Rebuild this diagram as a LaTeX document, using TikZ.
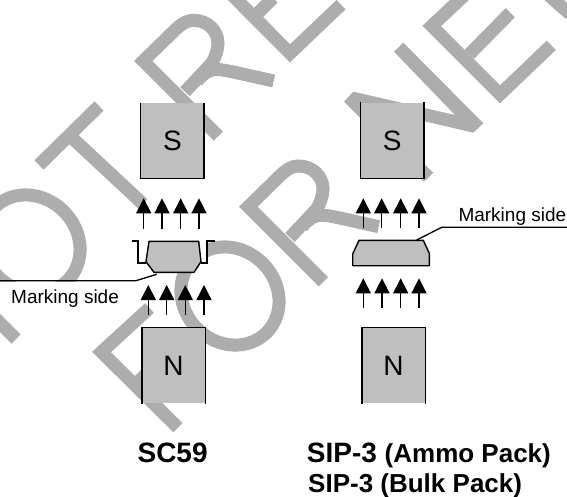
\documentclass[tikz,border=0pt]{standalone}
\usepackage{fontspec}
\setmainfont{Liberation Sans}
\usetikzlibrary{arrows.meta}
\definecolor{wmgray}{HTML}{ADADAD}
\definecolor{boxgray}{HTML}{BFBFBF}
\tikzset{
  wm/.style={draw=wmgray,line width=13pt,line cap=butt,line join=miter},
  magnet/.style={fill=boxgray,draw=none,inner sep=0pt,minimum width=63pt,minimum height=75.5pt,font=\fontsize{28}{28}\selectfont},
  magedge/.style={draw=black,line width=1.4pt},
  body/.style={fill=boxgray,draw=black,line width=1.4pt,line join=round},
  lead/.style={draw=black,line width=2pt},
  leader/.style={draw=black,line width=1.3pt},
  fieldarrow/.style={draw=black,line width=1.3pt,-{Triangle[length=15pt,width=15pt]}},
  marktext/.style={inner sep=0pt,anchor=base west,font=\fontsize{19}{19}\selectfont},
  titlebig/.style={inner sep=0pt,anchor=base west,font=\bfseries\fontsize{28}{28}\selectfont}
}
\newcommand{\letterR}{
  \draw[wm] (218.3,136)--(143.3,61)--(175,30) .. controls (183,22.5) and (188,20.3) .. (193.3,20.3) .. controls (208,20.3) and (218,31) .. (218,43.3) .. controls (218,50) and (215,58) .. (211.7,63.3) -- (185,91.7);
  \draw[wm] (197,81) .. controls (204,73) and (210,68.5) .. (220,69.7) .. controls (228,70.5) and (240,73.5) .. (273.7,81);
}
\begin{document}
\begin{tikzpicture}[x=1pt,y=-1pt]
\useasboundingbox (0,0) rectangle (567,497);
\fill[white] (0,0) rectangle (567,497);
\begin{scope}
\clip (0,0) rectangle (567,497);
% watermark fragments
\draw[wm] (39,165)--(99,106);
\draw[wm] (69,135)--(143,204);
\begin{scope}
\clip (-5,150) rectangle (120,281);
\draw[wm] (31,244) ellipse[x radius=51.7pt,y radius=46.3pt,rotate=-45];
\end{scope}
\draw[wm] (-10,313)--(16,339);
\letterR
\begin{scope}[shift={(105,145.7)}]\letterR\end{scope}
\draw[wm] (230,-7)--(290,53.3)--(341,4.7);
\draw[wm] (258,13)--(273,-2);
\draw[wm] (230,296) ellipse[x radius=51.7pt,y radius=46.3pt,rotate=-45];
\draw[wm] (149.5,308)--(101.5,352)--(178,427.7);
\draw[wm] (135,385)--(155,365);
\fill[wmgray] (394,51.7)--(403.3,42.7)--(483.3,123.3)--(473.3,132.7)--(365,107.3)--(433.3,172.7)--(424,181.7)--(344,101.7)--(353.3,91.7)--(455,115)--cycle;
\draw[wm] (470,-10)--(431.7,26)--(500,94.3)--(551.3,45.3);
\draw[wm] (469.3,54.3)--(510.3,12.7);
\draw[wm] (545,-8)--(570,14);
\end{scope}
% magnets
\node[magnet] (sl) at (172.4,140.7) {S};
\node[magnet] (sr) at (392.2,140.4) {S};
\node[magnet] (nl) at (173.6,365.7) {N};
\node[magnet] (nr) at (393.5,365.7) {N};
\foreach \m in {sl,sr}
  \draw[magedge] (\m.north west)--(\m.south west)--(\m.south east)--(\m.north east);
\foreach \m in {nl,nr}
  \draw[magedge] (\m.south west)--(\m.north west)--(\m.north east)--(\m.south east);
% field arrows
\foreach \i/\x in {1/143.7,2/162,3/180.7,4/199}{
  \coordinate (ua\i) at (\x,229); \coordinate (ub\i) at (\x,198.3);
  \draw[fieldarrow] (ua\i)--(ub\i);}
\foreach \i/\x in {1/148.3,2/166.7,3/185.3,4/204}{
  \coordinate (la\i) at (\x,315); \coordinate (lb\i) at (\x,285);
  \draw[fieldarrow] (la\i)--(lb\i);}
\foreach \i/\x in {1/363.3,2/381.7,3/400.7,4/419}{
  \coordinate (ra\i) at (\x,228.3); \coordinate (rb\i) at (\x,198.3);
  \draw[fieldarrow] (ra\i)--(rb\i);}
\foreach \i/\x in {1/363.3,2/382,3/400.7,4/419}{
  \coordinate (qa\i) at (\x,307.7); \coordinate (qb\i) at (\x,278.3);
  \draw[fieldarrow] (qa\i)--(qb\i);}
% SC59 device
\fill[white] (139,241.3) rectangle (207.3,262.7);
\draw[lead] (131.7,241.3)--(138.3,241.3)--(138.3,262.7)--(146,262.7);
\draw[lead] (215,241.3)--(207.3,241.3)--(207.3,262.7)--(200.5,262.7);
\draw[body] (149,241.3)--(198.7,241.3)--(201,261.7)--(194,272.3)--(154,272.3)--(146,261.7)--cycle;
% SIP-3 device
\draw[body] (359,240.3)--(423.3,240.3)--(429.3,253.3)--(429.3,265.7)--(352.7,265.7)--(352.7,254)--cycle;
% leaders
\coordinate (lp) at (156.7,274.3);
\coordinate (lk) at (136,280.7);
\coordinate (le) at (0,280.7);
\draw[leader] (lp)--(lk)--(le);
\coordinate (rp) at (416.7,240);
\coordinate (rk) at (441.7,227.3);
\coordinate (re) at (567,227.3);
\draw[leader] (rp)--(rk)--(re);
% labels
\node[marktext] (ml) at (11,303.3) {Marking side};
\node[marktext] (mr) at (458.3,221) {Marking side};
\node[titlebig] (t1) at (137.4,462.7) {SC59};
\node[titlebig] (t2) at (306.7,462.7) {SIP-3 {\fontsize{26}{26}\selectfont (Ammo Pack)}};
\node[titlebig,font=\bfseries\fontsize{26}{26}\selectfont] (t3) at (308,492) {SIP-3 (Bulk Pack)};
\end{tikzpicture}
\end{document}
